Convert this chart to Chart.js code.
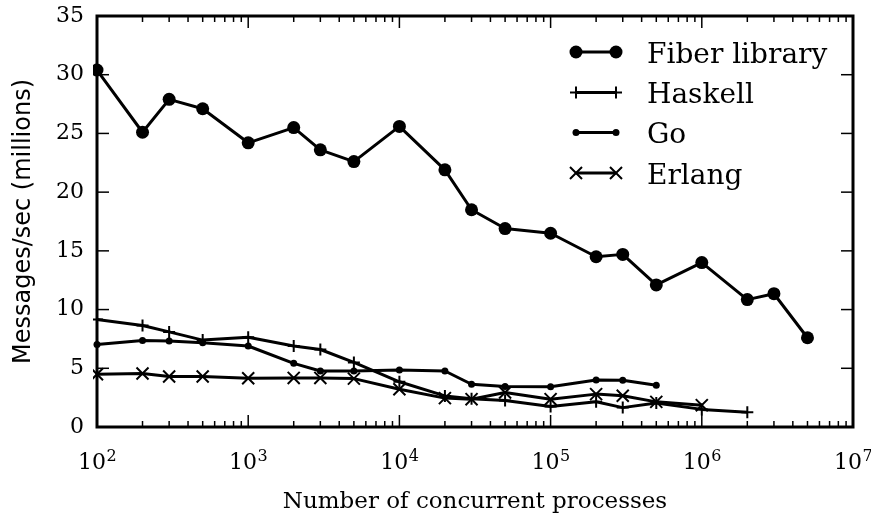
<!DOCTYPE html>
<html><head><meta charset="utf-8">
<script src="https://cdn.jsdelivr.net/npm/chart.js@4.4.1/dist/chart.umd.min.js"></script>
<style>html,body{margin:0;padding:0;background:#fff;}#wrap{width:871px;height:519px;position:relative;}</style>
</head><body><div id="wrap"><canvas id="c" width="871" height="519"></canvas></div>
<script>
// ---- data ----
const fiberX = [100,200,300,500,1e3,2e3,3e3,5e3,1e4,2e4,3e4,5e4,1e5,2e5,3e5,5e5,1e6,2e6,3e6,5e6];
const fiberY = [30.4,25.1,27.9,27.1,24.2,25.5,23.6,22.6,25.6,21.9,18.5,16.9,16.5,14.5,14.7,12.1,14.0,10.85,11.35,7.6];
const haskellX = [100,200,300,500,1e3,2e3,3e3,5e3,1e4,2e4,3e4,5e4,1e5,2e5,3e5,5e5,1e6,2e6];
const haskellY = [9.15,8.65,8.1,7.4,7.65,6.9,6.6,5.5,3.85,2.65,2.4,2.25,1.75,2.15,1.65,2.05,1.5,1.25];
const goX = [100,200,300,500,1e3,2e3,3e3,5e3,1e4,2e4,3e4,5e4,1e5,2e5,3e5,5e5];
const goY = [7.03,7.37,7.32,7.17,6.9,5.42,4.77,4.77,4.86,4.77,3.64,3.45,3.42,4.0,3.98,3.56];
const erlangX = [100,200,300,500,1e3,2e3,3e3,5e3,1e4,2e4,3e4,5e4,1e5,2e5,3e5,5e5,1e6];
const erlangY = [4.49,4.55,4.3,4.3,4.15,4.18,4.18,4.12,3.22,2.46,2.37,2.94,2.37,2.8,2.66,2.14,1.86];
const seriesLabels = ['Fiber library','Haskell','Go','Erlang'];
const xDecades = [1e2,1e3,1e4,1e5,1e6,1e7];
const xTickBase = '10';
const xTickExponents = ['2','3','4','5','6','7'];
const yTicks = [0,5,10,15,20,25,30,35];
const xTitle = 'Number of concurrent processes';
const yTitle = 'Messages/sec (millions)';

const pts = (xs, ys) => xs.map((x, i) => ({x, y: ys[i]}));

function drawMarker(ctx, style, x, y, r, bw) {
  ctx.beginPath();
  if (style === 'circle') {
    ctx.arc(x, y, r, 0, Math.PI * 2); ctx.fill();
  } else if (style === 'cross') {
    ctx.lineWidth = bw;
    ctx.moveTo(x - r, y); ctx.lineTo(x + r, y);
    ctx.moveTo(x, y - r); ctx.lineTo(x, y + r); ctx.stroke();
  } else if (style === 'crossRot') {
    const d = r * Math.SQRT1_2; ctx.lineWidth = bw;
    ctx.moveTo(x - d, y - d); ctx.lineTo(x + d, y + d);
    ctx.moveTo(x - d, y + d); ctx.lineTo(x + d, y - d); ctx.stroke();
  }
}

const framePlugin = {
  id: 'frame',
  afterDatasetsDraw(chart) {
    const {ctx, chartArea: a, scales: {x, y}} = chart;
    ctx.save();
    ctx.strokeStyle = '#000'; ctx.fillStyle = '#000';
    const ln = (x1, y1, x2, y2) => { ctx.beginPath(); ctx.moveTo(x1, y1); ctx.lineTo(x2, y2); ctx.stroke(); };
    ctx.lineWidth = 1.5;
    yTicks.forEach(v => { const py = y.getPixelForValue(v); ln(a.left, py, a.left + 12, py); ln(a.right - 12, py, a.right, py); });
    for (let e = 2; e < 7; e++) for (let m = 1; m < 10; m++) {
      const v = m * Math.pow(10, e);
      if (v <= x.min || v >= x.max) continue;
      const px = x.getPixelForValue(v); const L = m === 1 ? 12 : 6;
      ln(px, a.bottom, px, a.bottom - L); ln(px, a.top, px, a.top + L);
    }
    ctx.lineWidth = 3; ctx.lineJoin = 'miter';
    ctx.strokeRect(a.left, a.top, a.right - a.left, a.bottom - a.top);
    ctx.restore();
  },
  afterDraw(chart) {
    const ctx = chart.ctx;
    const {x} = chart.scales;
    ctx.save();
    ctx.strokeStyle = '#000'; ctx.fillStyle = '#000';
    // x tick labels: 10 with superscript exponent, positioned by the log scale
    ctx.textAlign = 'left'; ctx.textBaseline = 'alphabetic';
    xDecades.forEach((d, i) => {
      const px = x.getPixelForValue(d);
      ctx.font = '22px "DejaVu Serif"'; const w1 = ctx.measureText(xTickBase).width;
      ctx.font = '16px "DejaVu Serif"'; const w2 = ctx.measureText(xTickExponents[i]).width;
      const sx = px - (w1 + w2) / 2;
      ctx.font = '22px "DejaVu Serif"'; ctx.fillText(xTickBase, sx, 469);
      ctx.font = '16px "DejaVu Serif"'; ctx.fillText(xTickExponents[i], sx + w1 + 0.5, 461);
    });
    // legend
    const rowY = [52, 92.5, 132.5, 173];
    const x1 = 576, x2 = 616, tx = 647;
    chart.data.datasets.forEach((ds, i) => {
      const yy = rowY[i];
      ctx.lineWidth = ds.borderWidth;
      ctx.beginPath(); ctx.moveTo(x1, yy); ctx.lineTo(x2, yy); ctx.stroke();
      drawMarker(ctx, ds.pointStyle, x1, yy, ds.pointRadius, ds.pointBorderWidth);
      drawMarker(ctx, ds.pointStyle, x2, yy, ds.pointRadius, ds.pointBorderWidth);
      ctx.font = '28px "DejaVu Serif"'; ctx.textBaseline = 'alphabetic'; ctx.textAlign = 'left';
      ctx.fillText(ds.label, tx, yy + 10.5);
    });
    ctx.restore();
  }
};

const zeroPad = (s) => { s.paddingTop = 0; s.paddingBottom = 0; s.paddingLeft = 0; s.paddingRight = 0; };

const common = {borderColor: '#000', backgroundColor: '#000', pointBackgroundColor: '#000', pointBorderColor: '#000',
  borderWidth: 3, tension: 0, borderJoinStyle: 'round', clip: 4};

new Chart(document.getElementById('c'), {
  type: 'line',
  data: {
    datasets: [
      {...common, label: seriesLabels[0], data: pts(fiberX, fiberY), pointStyle: 'circle', pointRadius: 6.5, pointBorderWidth: 0, order: 4},
      {...common, label: seriesLabels[1], data: pts(haskellX, haskellY), pointStyle: 'cross', pointRadius: 6, pointBorderWidth: 2, order: 3},
      {...common, label: seriesLabels[2], data: pts(goX, goY), pointStyle: 'circle', pointRadius: 3.5, pointBorderWidth: 0, order: 2},
      {...common, label: seriesLabels[3], data: pts(erlangX, erlangY), pointStyle: 'crossRot', pointRadius: 8.5, pointBorderWidth: 2, order: 1}
    ]
  },
  options: {
    responsive: false, animation: false, events: [], devicePixelRatio: 1,
    layout: {padding: {top: 16, right: 18, left: 0, bottom: 0}},
    plugins: {legend: {display: false}, tooltip: {enabled: false}},
    scales: {
      x: {
        type: 'logarithmic', min: 100, max: 1e7, position: 'bottom',
        grid: {display: false, drawTicks: false}, border: {display: false},
        ticks: {display: false, autoSkip: false, maxRotation: 0, minRotation: 0},
        title: {display: true, text: xTitle, color: '#000', font: {family: 'DejaVu Serif', size: 23}, padding: {top: 0, bottom: 3}},
        afterFit: (s) => { s.height = 92; zeroPad(s); }
      },
      y: {
        type: 'linear', min: 0, max: 35, position: 'left',
        grid: {display: false, drawTicks: false}, border: {display: false},
        afterBuildTicks: (s) => { s.ticks = yTicks.map(v => ({value: v})); },
        ticks: {padding: 13, color: '#000', font: {family: 'DejaVu Serif', size: 22}},
        title: {display: true, text: yTitle, color: '#000', font: {family: 'DejaVu Sans', size: 24}, padding: {top: 9, bottom: 0}},
        afterFit: (s) => { s.width = 97; zeroPad(s); }
      }
    }
  },
  plugins: [framePlugin]
});
</script>
</body></html>
